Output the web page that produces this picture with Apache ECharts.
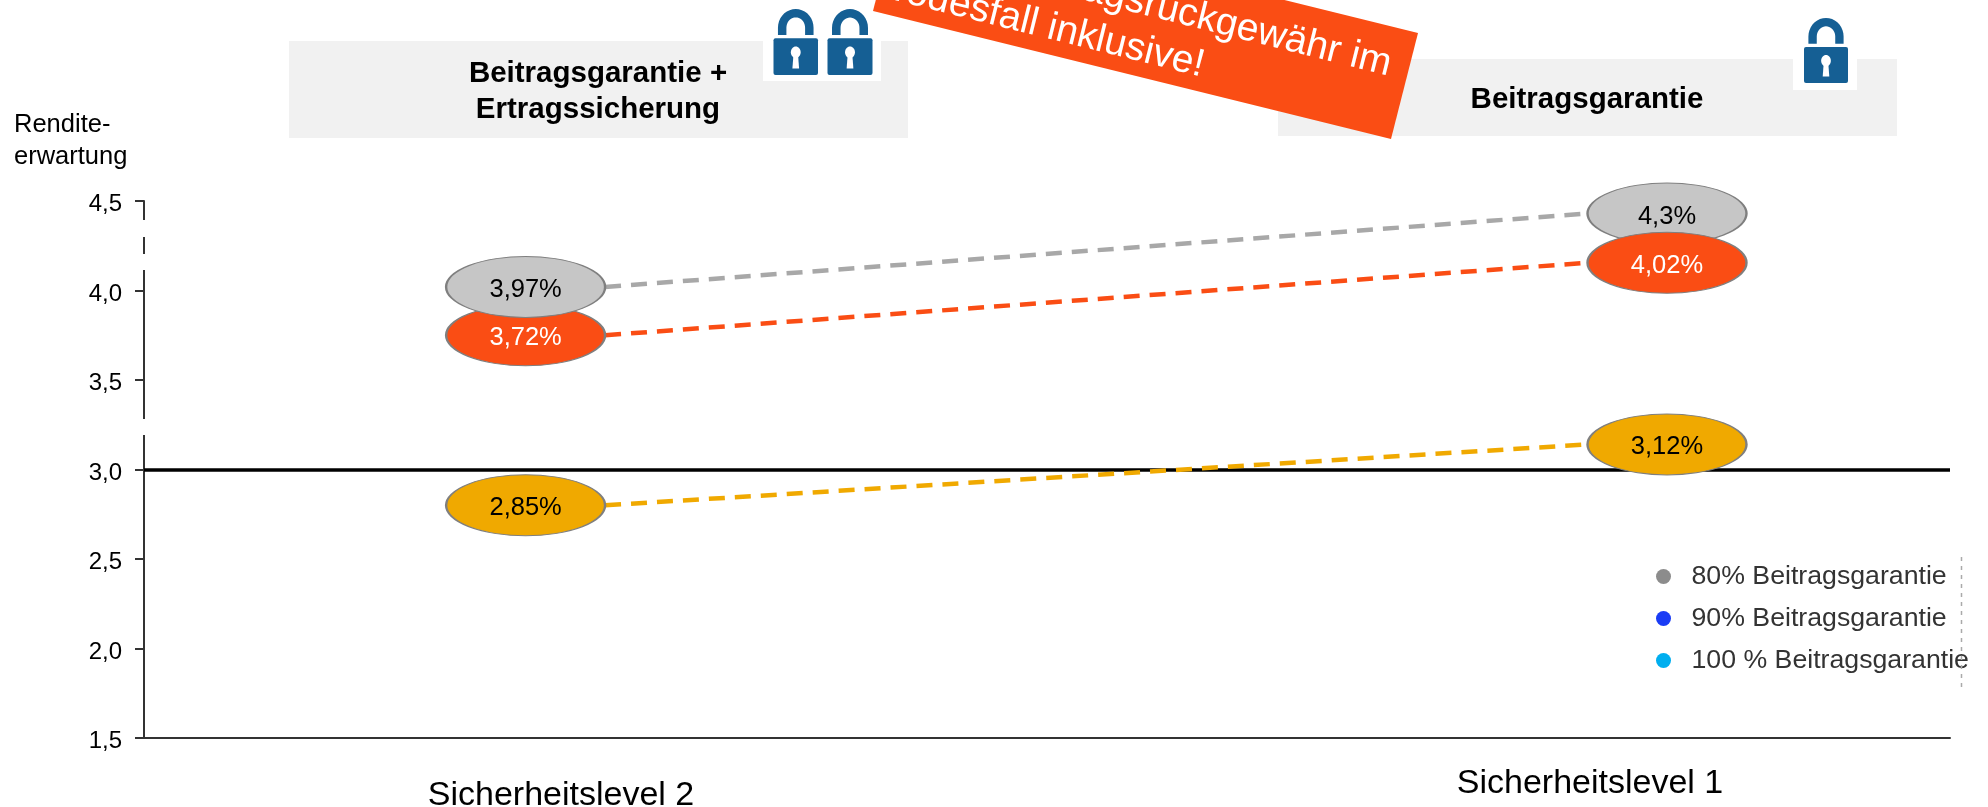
<!DOCTYPE html>
<html><head><meta charset="utf-8">
<style>html,body{margin:0;padding:0;background:#fff}#c{width:1988px;height:807px}</style>
<script src="https://cdn.jsdelivr.net/npm/echarts@6/dist/echarts.min.js"></script>
</head><body><div id="c"></div>
<script>
// Data
const categories = ['Sicherheitslevel 2', 'Sicherheitslevel 1'];
const levelX = [21.13, 84.33];
const connectorX = [25.53, 79.93];
const yTicks = { min: 1.5, max: 4.5, step: 0.5 };
const guarantee80 = [4.02, 4.43];
const guarantee90 = [3.75, 4.155];
const guarantee100 = [2.80, 3.14];
const labels80 = ['3,97%', '4,3%'];
const labels90 = ['3,72%', '4,02%'];
const labels100 = ['2,85%', '3,12%'];
const legendNames = ['80% Beitragsgarantie', '90% Beitragsgarantie', '100 % Beitragsgarantie'];
const referenceLevel = 3.0;

const FONT = '"Liberation Sans", Arial, sans-serif';
const GRAY = '#c6c6c6', ORANGE = '#fa4d14', YELLOW = '#f0a900', LOCK = '#155f94';
const ELLIPSE = 'path://M0,50A50,50,0,1,1,100,50A50,50,0,1,1,0,50Z';

const bands = {
  gray: { v: guarantee80, l: labels80, fill: GRAY, line: '#a8a8a8', text: '#000' },
  orange: { v: guarantee90, l: labels90, fill: ORANGE, line: ORANGE, text: '#fff' },
  yellow: { v: guarantee100, l: labels100, fill: YELLOW, line: YELLOW, text: '#000' }
};
const lineSeries = (b, withRef) => ({
  type: 'line', silent: true, z: 3, symbol: 'none',
  data: connectorX.map((x, i) => [x, b.v[i]]),
  lineStyle: { color: b.line, width: 4.5, type: [16, 10] },
  ...(withRef ? {
    markLine: {
      silent: true, symbol: 'none', z: 2, label: { show: false },
      lineStyle: { color: '#000', width: 3.5, type: 'solid' },
      data: [{ yAxis: referenceLevel }]
    }
  } : {})
});
// Drawn in the listed order, so the upper ellipse differs per column as in the reference
const column = (i, order) => ({
  type: 'scatter', silent: true, z: 5,
  symbol: ELLIPSE, symbolSize: [159, 61],
  data: order.map(k => {
    const b = bands[k];
    return {
      value: [levelX[i], b.v[i]],
      itemStyle: { color: b.fill, borderColor: '#7f7f7f', borderWidth: 1.5, opacity: 1 },
      label: { show: true, position: 'inside', formatter: b.l[i], color: b.text, fontSize: 25.5, fontFamily: FONT, offset: [0, 3] }
    };
  })
});
const legendSeries = legendNames.map((name, i) => ({
  type: 'scatter', name, data: [], symbol: 'circle',
  itemStyle: { color: ['#8c8c8c', '#1a3cf5', '#00aeef'][i], opacity: 1 }
}));

function shackle(cx, top, r, thick, bottom) {
  const cy = top + r * 1.05, ry = r * 1.05, pts = [[cx - r, bottom]];
  for (let a = 180; a <= 360; a += 10) {
    const q = a * Math.PI / 180;
    pts.push([cx + r * Math.cos(q), cy + ry * Math.sin(q)]);
  }
  pts.push([cx + r, bottom], [cx + r - thick, bottom]);
  for (let a = 360; a >= 180; a -= 10) {
    const q = a * Math.PI / 180;
    pts.push([cx + (r - thick) * Math.cos(q), cy + (ry - thick) * Math.sin(q)]);
  }
  pts.push([cx - r + thick, bottom]);
  return pts;
}
const lockShape = (x, y, w, h) => {
  const bodyTop = y + h * 0.445, bodyH = h - (bodyTop - y), cx = x + w / 2;
  return [
    { type: 'rect', z: 20, shape: { x, y: bodyTop, width: w, height: bodyH, r: 2 }, style: { fill: LOCK } },
    { type: 'polygon', z: 20, style: { fill: LOCK }, shape: { points: shackle(cx, y, w * 0.4, w * 0.19, y + h * 0.395) } },
    { type: 'ellipse', z: 21, shape: { cx, cy: bodyTop + bodyH * 0.38, rx: w * 0.11, ry: w * 0.13 }, style: { fill: '#fff' } },
    { type: 'polygon', z: 21, style: { fill: '#fff' }, shape: { points: [
      [cx - w * 0.05, bodyTop + bodyH * 0.42], [cx + w * 0.05, bodyTop + bodyH * 0.42],
      [cx + w * 0.075, bodyTop + bodyH * 0.82], [cx - w * 0.075, bodyTop + bodyH * 0.82]] } }
  ];
};
const txt = (text, x, y, size, extra) => ({
  type: 'text', x, y, z: 15,
  style: Object.assign({ text, font: `${size}px ${FONT}`, fill: '#000', align: 'center', verticalAlign: 'middle' }, extra || {})
});
const white = (x, y, width, height, z) => ({ type: 'rect', z: z || 12, shape: { x, y, width, height }, style: { fill: '#fff' } });
const ROT = -14 * Math.PI / 180;

const graphics = [
  { type: 'rect', z: 10, shape: { x: 289, y: 41, width: 619, height: 97 }, style: { fill: '#f1f1f1' } },
  { type: 'rect', z: 10, shape: { x: 1278, y: 59, width: 619, height: 77 }, style: { fill: '#f1f1f1' } },
  txt('Beitragsgarantie +', 598, 73.5, 29.5, { font: `bold 29.5px ${FONT}` }),
  txt('Ertragssicherung', 598, 110, 29.5, { font: `bold 29.5px ${FONT}` }),
  txt('Beitragsgarantie', 1587, 99.5, 29.5, { font: `bold 29.5px ${FONT}` }),
  white(763, 41, 118, 40),
  white(1793, 59, 64, 31),
  ...lockShape(773.5, 9, 44.5, 66),
  ...lockShape(827.5, 9, 45, 66),
  ...lockShape(1804, 18, 44, 65),
  { type: 'polygon', z: 13, shape: { points: [[900, -95], [1418, 33], [1391, 139], [873, 11]] }, style: { fill: ORANGE } },
  { type: 'text', z: 16, x: 1386, y: 84, rotation: ROT, style: { text: 'Beitragsrückgewähr im', font: `39px ${FONT}`, fill: '#fff', align: 'right', verticalAlign: 'bottom' } },
  { type: 'text', z: 16, x: 1199, y: 85, rotation: ROT, style: { text: 'Todesfall inklusive!', font: `39px ${FONT}`, fill: '#fff', align: 'right', verticalAlign: 'bottom' } },
  txt('Rendite-', 14, 125, 25.5, { align: 'left' }),
  txt('erwartung', 14, 157, 25.5, { align: 'left' }),
  txt(categories[0], 561, 796, 34),
  txt(categories[1], 1590, 784, 34),
  // gaps in the value axis line
  white(141, 220, 6, 17),
  white(141, 254, 6, 16),
  white(141, 419, 6, 16),
  { type: 'line', z: 11, shape: { x1: 1961.5, y1: 557, x2: 1961.5, y2: 687 }, style: { stroke: '#aaa', lineWidth: 1.5, lineDash: [4, 5] } }
];

const chart = echarts.init(document.getElementById('c'), null, { renderer: 'canvas' });
chart.setOption({
  animation: false,
  backgroundColor: '#fff',
  grid: { left: 144, right: 38, top: 201, bottom: 69 },
  xAxis: {
    type: 'value', min: 0, max: 100,
    axisLine: { show: true, onZero: false, lineStyle: { color: '#333', width: 2 } },
    axisTick: { show: false }, axisLabel: { show: false }, splitLine: { show: false }
  },
  yAxis: {
    type: 'value', min: yTicks.min, max: yTicks.max, interval: yTicks.step,
    axisLine: { show: true, onZero: false, lineStyle: { color: '#333', width: 2 } },
    axisTick: { show: true, length: 9, lineStyle: { color: '#333', width: 2 } },
    axisLabel: {
      margin: 22,
      formatter: v => '{t|' + v.toFixed(1).replace('.', ',') + '}',
      rich: { t: { color: '#000', fontSize: 24, fontFamily: FONT, padding: [7, 0, 0, 0] } }
    },
    splitLine: { show: false }
  },
  legend: {
    orient: 'vertical', left: 1651, top: 558, itemWidth: 46, itemHeight: 15, itemGap: 15,
    icon: 'circle', selectedMode: false, data: legendNames,
    textStyle: { color: '#333', fontSize: 26.7, fontFamily: FONT }
  },
  series: [
    lineSeries(bands.yellow, true), lineSeries(bands.gray), lineSeries(bands.orange),
    column(0, ['yellow', 'orange', 'gray']),
    column(1, ['yellow', 'gray', 'orange']),
    ...legendSeries
  ],
  graphic: { elements: graphics }
});
</script></body></html>
